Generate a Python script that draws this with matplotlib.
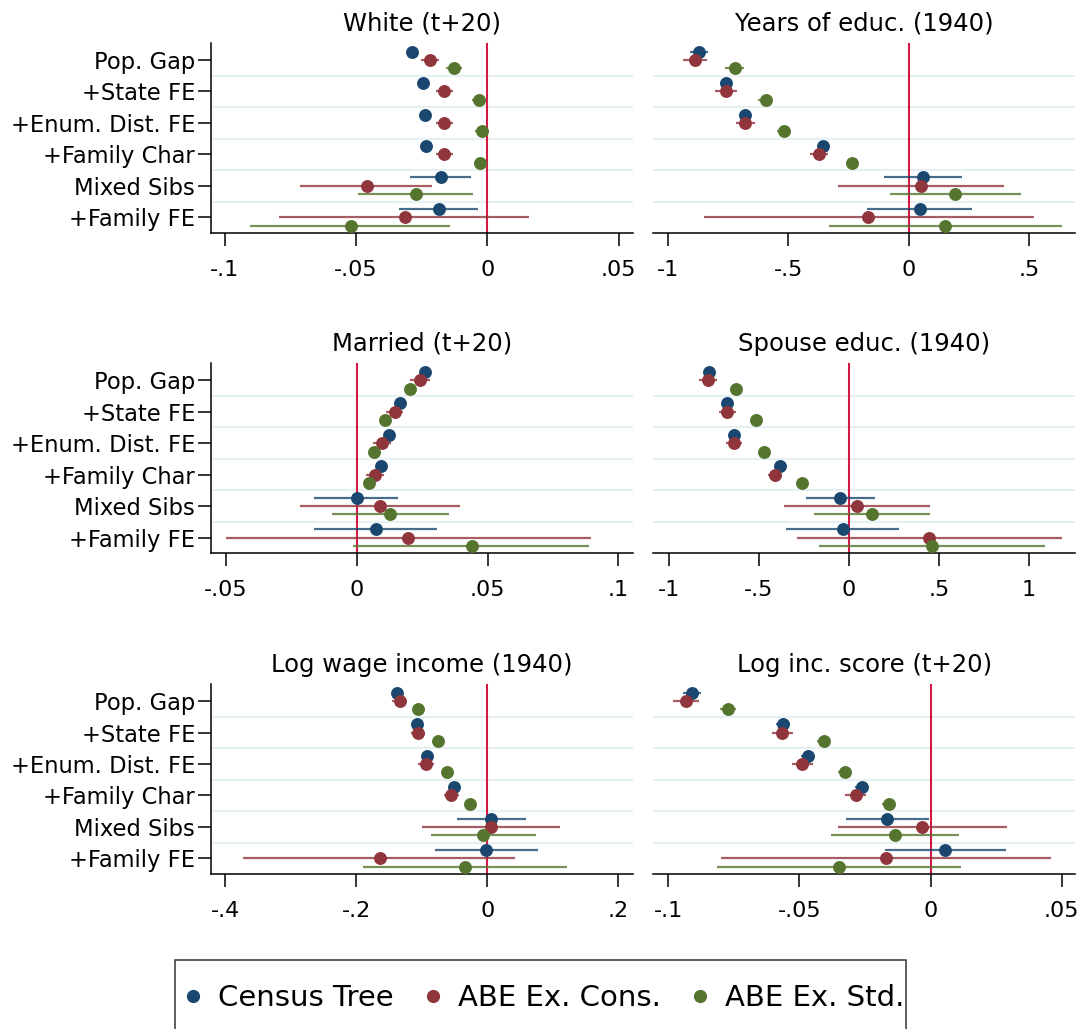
import matplotlib
matplotlib.use("Agg")
import matplotlib.pyplot as plt
from matplotlib.lines import Line2D
from matplotlib.patches import Rectangle

# specifications (rows) and series
specs = ["Pop. Gap", "+State FE", "+Enum. Dist. FE", "+Family Char", "Mixed Sibs", "+Family FE"]
series = ["Census Tree", "ABE Ex. Cons.", "ABE Ex. Std."]
colors = ["#1a476f", "#90353b", "#55752f"]

# White (t+20): rows = Census Tree, ABE Ex. Cons., ABE Ex. Std.
white_b = [[-0.0288, -0.0246, -0.0236, -0.0232, -0.0175, -0.0184],
           [-0.0218, -0.0164, -0.0164, -0.0164, -0.0459, -0.0315],
           [-0.0126, -0.0033, -0.0020, -0.0028, -0.0272, -0.0520]]
white_lo = [[-0.0305, -0.0262, -0.0252, -0.0248, -0.0294, -0.0335],
            [-0.0252, -0.0196, -0.0196, -0.0196, -0.0713, -0.0792],
            [-0.0156, -0.0057, -0.0045, -0.0052, -0.0491, -0.0904]]
white_hi = [[-0.0271, -0.0230, -0.0220, -0.0216, -0.0063, -0.0037],
            [-0.0185, -0.0132, -0.0132, -0.0132, -0.0211, 0.0160],
            [-0.0096, -0.0009, 0.0005, -0.0004, -0.0056, -0.0142]]

# Years of educ. (1940)
educ_b = [[-0.872, -0.759, -0.681, -0.355, 0.058, 0.049],
          [-0.888, -0.761, -0.680, -0.372, 0.051, -0.168],
          [-0.723, -0.595, -0.518, -0.236, 0.193, 0.153]]
educ_lo = [[-0.910, -0.785, -0.705, -0.378, -0.103, -0.171],
           [-0.937, -0.807, -0.720, -0.410, -0.294, -0.851],
           [-0.763, -0.625, -0.548, -0.262, -0.079, -0.330]]
educ_hi = [[-0.834, -0.733, -0.657, -0.332, 0.223, 0.262],
           [-0.839, -0.715, -0.640, -0.334, 0.396, 0.520],
           [-0.683, -0.565, -0.488, -0.210, 0.466, 0.638]]

# Married (t+20)
married_b = [[0.0261, 0.0163, 0.0122, 0.0092, 0.0000, 0.0073],
             [0.0241, 0.0145, 0.0097, 0.0069, 0.0088, 0.0197],
             [0.0202, 0.0107, 0.0065, 0.0047, 0.0127, 0.0439]]
married_lo = [[0.0245, 0.0148, 0.0106, 0.0076, -0.0163, -0.0166],
              [0.0204, 0.0112, 0.0062, 0.0034, -0.0218, -0.0500],
              [0.0185, 0.0090, 0.0048, 0.0030, -0.0095, -0.0015]]
married_hi = [[0.0277, 0.0178, 0.0138, 0.0108, 0.0158, 0.0306],
              [0.0278, 0.0178, 0.0132, 0.0104, 0.0393, 0.0895],
              [0.0219, 0.0124, 0.0082, 0.0064, 0.0353, 0.0886]]

# Spouse educ. (1940)
spouse_b = [[-0.776, -0.676, -0.635, -0.383, -0.048, -0.035],
            [-0.781, -0.674, -0.637, -0.409, 0.044, 0.443],
            [-0.624, -0.513, -0.470, -0.259, 0.130, 0.463]]
spouse_lo = [[-0.800, -0.700, -0.659, -0.407, -0.239, -0.348],
             [-0.831, -0.719, -0.680, -0.449, -0.359, -0.289],
             [-0.649, -0.538, -0.495, -0.284, -0.191, -0.163]]
spouse_hi = [[-0.752, -0.652, -0.611, -0.359, 0.146, 0.276],
             [-0.731, -0.629, -0.594, -0.369, 0.452, 1.183],
             [-0.599, -0.488, -0.445, -0.234, 0.452, 1.087]]

# Log wage income (1940)
wage_b = [[-0.1374, -0.1074, -0.0916, -0.0509, 0.0066, -0.0010],
          [-0.1338, -0.1053, -0.0936, -0.0545, 0.0066, -0.1639],
          [-0.1053, -0.0758, -0.0616, -0.0265, -0.0056, -0.0341]]
wage_lo = [[-0.1434, -0.1134, -0.0976, -0.0569, -0.0468, -0.0804],
           [-0.1448, -0.1163, -0.1056, -0.0665, -0.0992, -0.3735],
           [-0.1103, -0.0808, -0.0666, -0.0315, -0.0855, -0.1903]]
wage_hi = [[-0.1314, -0.1014, -0.0856, -0.0449, 0.0590, 0.0784],
           [-0.1228, -0.0943, -0.0816, -0.0425, 0.1115, 0.0433],
           [-0.1003, -0.0708, -0.0566, -0.0215, 0.0748, 0.1221]]

# Log inc. score (t+20)
score_b = [[-0.0908, -0.0563, -0.0468, -0.0262, -0.0167, 0.0057],
           [-0.0931, -0.0564, -0.0488, -0.0285, -0.0031, -0.0169],
           [-0.0773, -0.0407, -0.0327, -0.0159, -0.0136, -0.0350]]
score_lo = [[-0.0943, -0.0590, -0.0495, -0.0289, -0.0323, -0.0175],
            [-0.0981, -0.0604, -0.0528, -0.0325, -0.0353, -0.0798],
            [-0.0803, -0.0432, -0.0352, -0.0184, -0.0380, -0.0815]]
score_hi = [[-0.0873, -0.0536, -0.0441, -0.0235, -0.0006, 0.0287],
            [-0.0881, -0.0524, -0.0448, -0.0245, 0.0292, 0.0461],
            [-0.0743, -0.0382, -0.0302, -0.0134, 0.0108, 0.0116]]

titles = ["White (t+20)", "Years of educ. (1940)", "Married (t+20)",
          "Spouse educ. (1940)", "Log wage income (1940)", "Log inc. score (t+20)"]
xlims = [(-0.1052, 0.0555), (-1.062, 0.694), (-0.0558, 0.1056),
         (-1.085, 1.257), (-0.4219, 0.2229), (-0.1056, 0.0552)]
xticks = [[-0.1, -0.05, 0, 0.05], [-1, -0.5, 0, 0.5], [-0.05, 0, 0.05, 0.1],
          [-1, -0.5, 0, 0.5, 1], [-0.4, -0.2, 0, 0.2], [-0.1, -0.05, 0, 0.05]]
xticklabels = [["-.1", "-.05", "0", ".05"], ["-1", "-.5", "0", ".5"], ["-.05", "0", ".05", ".1"],
               ["-1", "-.5", "0", ".5", "1"], ["-.4", "-.2", "0", ".2"], ["-.1", "-.05", "0", ".05"]]

panels = [(white_b, white_lo, white_hi), (educ_b, educ_lo, educ_hi),
          (married_b, married_lo, married_hi), (spouse_b, spouse_lo, spouse_hi),
          (wage_b, wage_lo, wage_hi), (score_b, score_lo, score_hi)]

plt.rcParams['font.family'] = ['DejaVu Sans']

fig = plt.figure(figsize=(10.81, 10.29), dpi=100)

lefts = [0.1952, 0.6044]
bottoms = [0.7736, 0.4623, 0.1506]
w, h = 0.3904, 0.1846
offsets = [-0.264, 0.0, 0.264]
ypos = list(range(1, len(specs) + 1))

for k, (b, lo, hi) in enumerate(panels):
    row, col = k // 2, k % 2
    ax = fig.add_axes([lefts[col], bottoms[row], w, h])

    for g in range(1, len(specs)):
        ax.axhline(g + 0.5, color="#e6eff1", lw=1.6, zorder=0)
    ax.axvline(0, color="#d21a45", lw=1.5, zorder=2)

    for s in range(3):
        yy = [y + offsets[s] for y in ypos]
        ax.hlines(yy, lo[s], hi[s], color=colors[s], lw=1.6, alpha=0.8, zorder=3)
        ax.plot(b[s], yy, "o", color=colors[s], ms=9.3, mec="none", zorder=4)

    ax.set_xlim(*xlims[k])
    ax.set_ylim(6.5, 0.46)
    ax.set_xticks(xticks[k])
    ax.set_xticklabels(xticklabels[k])
    ax.set_title(titles[k], fontsize=17.5, pad=9)

    for sp in ["top", "right"]:
        ax.spines[sp].set_visible(False)
    ax.spines["bottom"].set_linewidth(1.1)
    ax.spines["left"].set_linewidth(1.1)
    ax.tick_params(axis="x", length=9.4, width=1.1, labelsize=16, pad=10)

    if col == 0:
        ax.set_yticks(ypos)
        ax.set_yticklabels(specs)
        ax.tick_params(axis="y", length=9.4, width=1.1, labelsize=16.3, pad=2)
    else:
        ax.spines["left"].set_visible(False)
        ax.set_yticks([])

# legend frame drawn separately so it can run off the bottom edge like the original
fig.patches.append(Rectangle((175 / 1081, -0.01), 731 / 1081, 0.01 + (1029 - 960) / 1029,
                             transform=fig.transFigure, fill=False, ec="#333333", lw=1.1))
handles = [Line2D([], [], marker="o", ls="none", color=c, ms=9.5, mec="none") for c in colors]
fig.legend(handles, series, loc="center left", bbox_to_anchor=(186 / 1081, 1 - 998 / 1029), ncol=3,
           fontsize=21, frameon=False, borderpad=0, borderaxespad=0,
           handlelength=0.5, handletextpad=0.6, columnspacing=1.1)

fig.savefig("out.png", dpi=100)
